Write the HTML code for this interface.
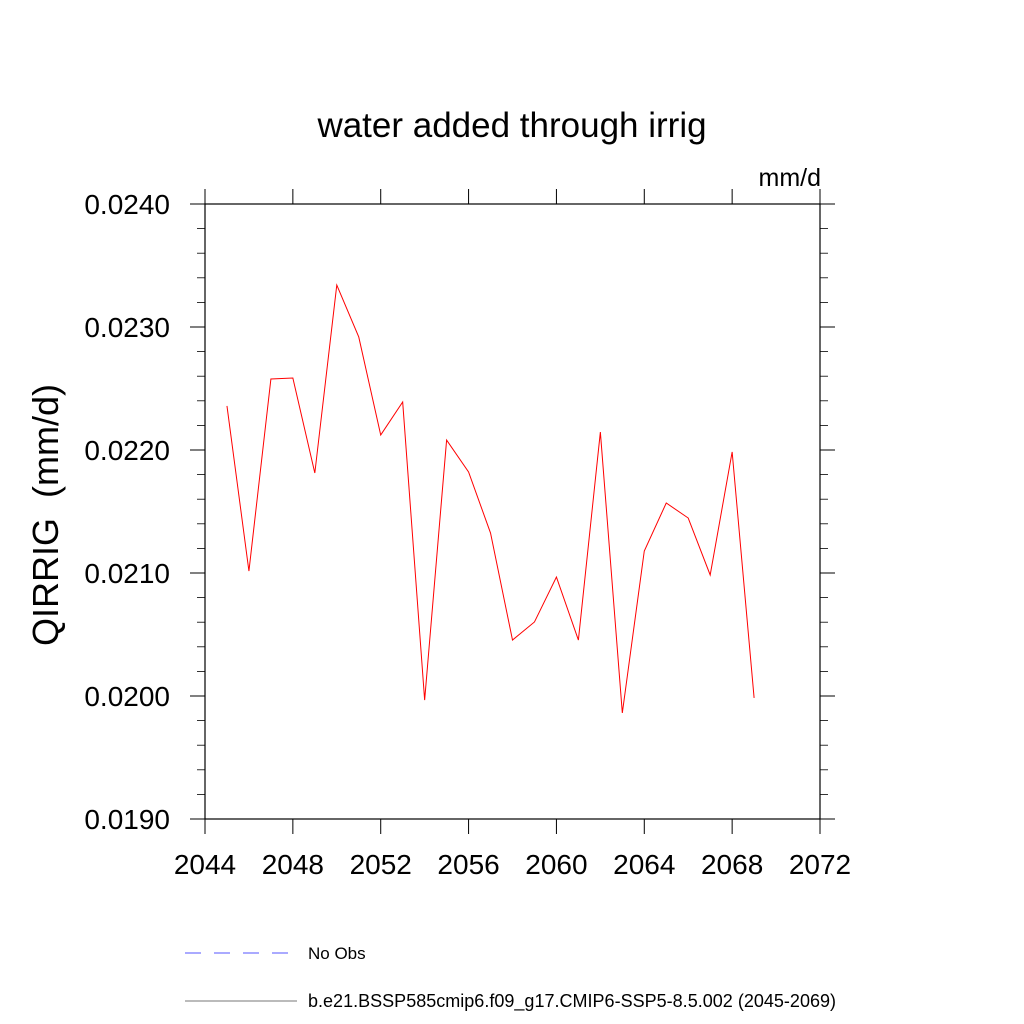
<!DOCTYPE html>
<html><head><meta charset="utf-8"><style>
body{margin:0;background:#fff;}
svg{display:block;font-family:"Liberation Sans",sans-serif;}
</style></head><body>
<svg id="c" width="1024" height="1024" viewBox="0 0 1024 1024">
<text x="512" y="137" font-size="35" text-anchor="middle">water added through irrig</text>
<text x="821" y="186" font-size="25" text-anchor="end">mm/d</text>
<text transform="translate(58,515) rotate(-90)" font-size="36" text-anchor="middle">QIRRIG&#160;&#160;(mm/d)</text>
<g id="axes"></g>
<g id="series"></g>
<g>
<line x1="185" y1="953" x2="295" y2="953" stroke="#5555ff" stroke-width="1" stroke-dasharray="16,13"/>
<text x="308" y="959" font-size="17">No Obs</text>
<line x1="185" y1="1001" x2="297" y2="1001" stroke="#777" stroke-width="1"/>
<text x="308" y="1007" font-size="18" textLength="528">b.e21.BSSP585cmip6.f09_g17.CMIP6-SSP5-8.5.002 (2045-2069)</text>
</g>
</svg>
<script>
const years=[2045,2046,2047,2048,2049,2050,2051,2052,2053,2054,2055,2056,2057,2058,2059,2060,2061,2062,2063,2064,2065,2066,2067,2068,2069];
const values=[0.022358,0.021016,0.022577,0.022585,0.021813,0.023341,0.022919,0.022122,0.022390,0.019967,0.022081,0.021821,0.021325,0.020455,0.020602,0.020967,0.020455,0.022146,0.019862,0.021179,0.021569,0.021447,0.020984,0.021984,0.019984];
const xTicks=[2044,2048,2052,2056,2060,2064,2068,2072];
const yTicks=[0.0190,0.0200,0.0210,0.0220,0.0230,0.0240];
const yTickLabels=["0.0190","0.0200","0.0210","0.0220","0.0230","0.0240"];
const L=205,R=820,T=204,B=819;
const xs=v=>L+(v-2044)/28*(R-L);
const ys=v=>B-(v-0.019)/0.005*(B-T);
const NS="http://www.w3.org/2000/svg";
const ax=document.getElementById('axes'),se=document.getElementById('series');
function mk(p,tag,at){const e=document.createElementNS(NS,tag);for(const k in at)e.setAttribute(k,at[k]);p.appendChild(e);return e;}
const fr=mk(ax,'rect',{x:L,y:T,width:R-L,height:B-T,fill:'none',stroke:'#000','stroke-width':1.2});


xTicks.forEach(t=>{const x=xs(t);
mk(ax,'line',{x1:x,y1:B,x2:x,y2:B+15,stroke:'#000'});
mk(ax,'line',{x1:x,y1:T,x2:x,y2:T-15,stroke:'#000'});
const tx=mk(ax,'text',{x:x,y:B+55,'font-size':28,'text-anchor':'middle'});tx.textContent=t;

});
for(let v=0.019;v<=0.02401;v+=0.0002){const y=ys(v);const major=Math.abs(v*1000-Math.round(v*1000))<1e-6;const len=major?15:8;
mk(ax,'line',{x1:L,y1:y,x2:L-len,y2:y,stroke:'#000','stroke-width':major?1:0.8});
mk(ax,'line',{x1:R,y1:y,x2:R+len,y2:y,stroke:'#000','stroke-width':major?1:0.8});}
yTicks.forEach((t,i)=>{const tx=mk(ax,'text',{x:L-35,y:ys(t)+10,'font-size':28,'text-anchor':'end'});tx.textContent=yTickLabels[i];

});
const pl=mk(se,'polyline',{points:years.map((y,i)=>xs(y)+','+ys(values[i])).join(' '),fill:'none',stroke:'#ff0000','stroke-width':1});


</script>
</body></html>
